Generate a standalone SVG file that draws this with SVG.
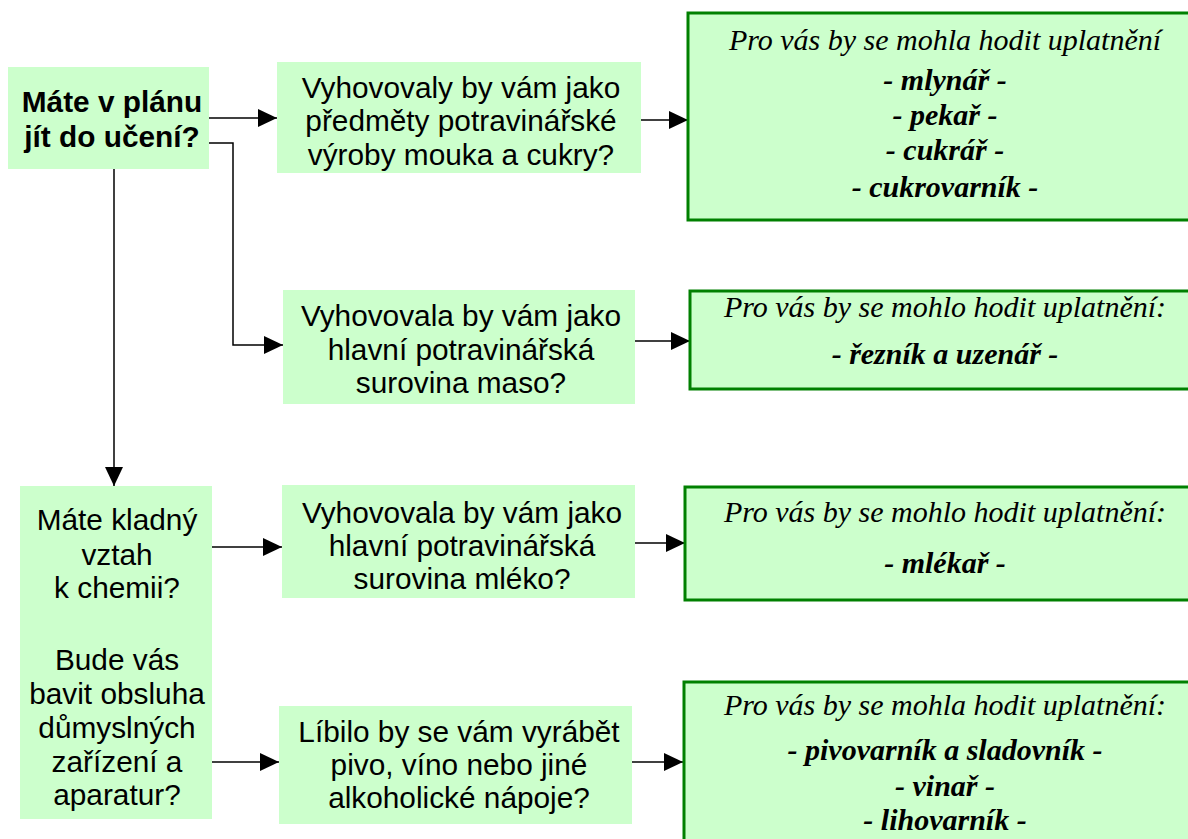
<svg xmlns="http://www.w3.org/2000/svg" width="1188" height="839" viewBox="0 0 1188 839">
<defs>
<marker id="ah" markerUnits="userSpaceOnUse" markerWidth="20" markerHeight="20" refX="19" refY="9" orient="auto">
<path d="M0,0 L19,9 L0,18 Z" fill="#000"/>
</marker>
<style>
.q{fill:#ccffcc;stroke:none}
.r{fill:#ccffcc;stroke:#008000;stroke-width:3}
.t{font-family:"Liberation Sans",Arial,sans-serif;font-size:29.8px;fill:#000;text-anchor:middle}
.b{font-weight:bold}
.s{font-family:"Liberation Serif","Times New Roman",serif;font-size:30px;font-style:italic;fill:#000;text-anchor:middle}
.c{fill:none;stroke:#000;stroke-width:1.5}
</style>
</defs>
<rect width="1188" height="839" fill="#fff"/>
<g id="connectors">
<path class="c" d="M209,118 H277" marker-end="url(#ah)"/>
<path class="c" d="M209,143 H233 V345 H283" marker-end="url(#ah)"/>
<path class="c" d="M114,169 V486" marker-end="url(#ah)"/>
<path class="c" d="M636,120 H688" marker-end="url(#ah)"/>
<path class="c" d="M630,341 H690" marker-end="url(#ah)"/>
<path class="c" d="M211,547 H282" marker-end="url(#ah)"/>
<path class="c" d="M635,543 H685" marker-end="url(#ah)"/>
<path class="c" d="M207,762 H279" marker-end="url(#ah)"/>
<path class="c" d="M630,762 H683" marker-end="url(#ah)"/>
</g>
<g id="nodeA">
<rect class="q" x="8" y="67" width="201" height="102"/>
<text class="t b" x="112" y="112">Máte v plánu</text>
<text class="t b" x="112" y="147">jít do učení?</text>
</g>
<g id="nodeB">
<rect class="q" x="277" y="62" width="364" height="111"/>
<text class="t" x="461" y="98">Vyhovovaly by vám jako</text>
<text class="t" x="461" y="131">předměty potravinářské</text>
<text class="t" x="461" y="165">výroby mouka a cukry?</text>
</g>
<g id="nodeC">
<rect class="q" x="283" y="290" width="352" height="114"/>
<text class="t" x="461" y="326">Vyhovovala by vám jako</text>
<text class="t" x="461" y="360">hlavní potravinářská</text>
<text class="t" x="461" y="393">surovina maso?</text>
</g>
<g id="nodeD">
<rect class="q" x="20" y="486" width="192" height="333"/>
<text class="t" x="117" y="530">Máte kladný</text>
<text class="t" x="117" y="565">vztah</text>
<text class="t" x="117" y="598">k chemii?</text>
<text class="t" x="117" y="670">Bude vás</text>
<text class="t" x="117" y="704">bavit obsluha</text>
<text class="t" x="117" y="738">důmyslných</text>
<text class="t" x="117" y="772">zařízení a</text>
<text class="t" x="117" y="805">aparatur?</text>
</g>
<g id="nodeE">
<rect class="q" x="282" y="485" width="353" height="113"/>
<text class="t" x="462" y="523">Vyhovovala by vám jako</text>
<text class="t" x="462" y="556">hlavní potravinářská</text>
<text class="t" x="462" y="589">surovina mléko?</text>
</g>
<g id="nodeF">
<rect class="q" x="279" y="706" width="353" height="118"/>
<text class="t" x="459" y="742">Líbilo by se vám vyrábět</text>
<text class="t" x="459" y="775">pivo, víno nebo jiné</text>
<text class="t" x="459" y="808">alkoholické nápoje?</text>
</g>
<g id="result1">
<rect class="r" x="688" y="13" width="520" height="207"/>
<text class="s" x="945" y="50">Pro vás by se mohla hodit uplatnění</text>
<text class="s b" x="945" y="90">- mlynář -</text>
<text class="s b" x="945" y="125">- pekař -</text>
<text class="s b" x="945" y="160">- cukrář -</text>
<text class="s b" x="945" y="197">- cukrovarník -</text>
</g>
<g id="result2">
<rect class="r" x="690" y="291" width="520" height="98"/>
<text class="s" x="945" y="317">Pro vás by se mohlo hodit uplatnění:</text>
<text class="s b" x="945" y="364">- řezník a uzenář -</text>
</g>
<g id="result3">
<rect class="r" x="685" y="487" width="520" height="113"/>
<text class="s" x="945" y="522">Pro vás by se mohlo hodit uplatnění:</text>
<text class="s b" x="945" y="573">- mlékař -</text>
</g>
<g id="result4">
<rect class="r" x="684" y="682" width="520" height="200"/>
<text class="s" x="945" y="715">Pro vás by se mohla hodit uplatnění:</text>
<text class="s b" x="945" y="760">- pivovarník a sladovník -</text>
<text class="s b" x="945" y="796">- vinař -</text>
<text class="s b" x="945" y="830">- lihovarník -</text>
</g>
</svg>
